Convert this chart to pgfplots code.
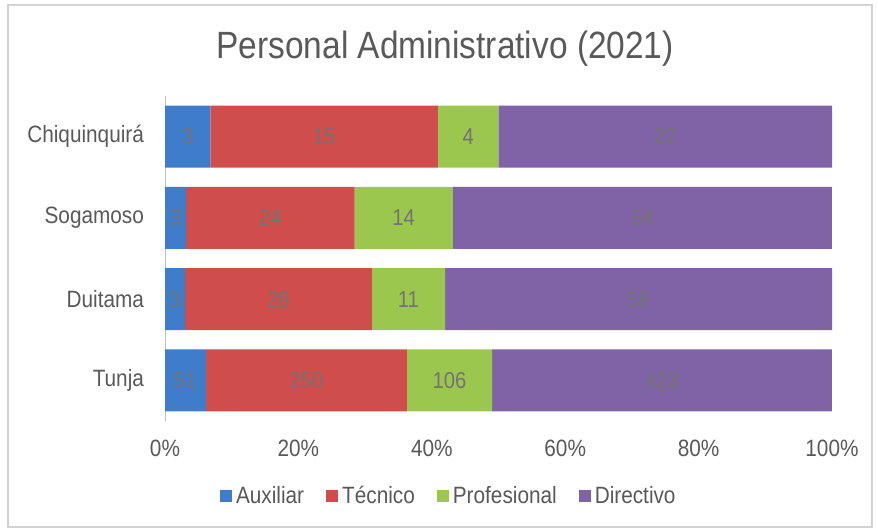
\documentclass[border=0pt]{standalone}
\usepackage{pgfplots}
\usepackage{pgfplotstable}
\pgfplotsset{compat=1.18}
\usepackage{fontspec}
\setmainfont{Liberation Sans}[FakeStretch=0.88]
\definecolor{txt}{HTML}{595959}
\definecolor{cAux}{HTML}{3F7DCB}
\definecolor{cTec}{HTML}{CF4D4B}
\definecolor{cPro}{HTML}{9CC74F}
\definecolor{cDir}{HTML}{8063A6}
\pgfplotstableread{
idx name aux tec pro dir
0 Tunja 51 250 106 423
1 Duitama 3 28 11 58
2 Sogamoso 3 24 14 54
3 Chiquinquira 3 15 4 22
}\data
\newcommand{\tot}{(\thisrow{aux}+\thisrow{tec}+\thisrow{pro}+\thisrow{dir})}
\begin{document}
\begin{tikzpicture}
\path[use as bounding box] (0,0) rectangle (439pt,264.5pt);
\draw[gray!35, line width=1pt] (4pt,1pt) rectangle (436pt,262pt);
\pgfplotsset{
  common/.style={
    at={(82.5pt,54pt)}, anchor=south west,
    width=333.5pt, height=162.5pt, scale only axis,
    xmin=0, xmax=100, ymin=-0.5, ymax=3.5,
  }
}
\begin{axis}[common,
  xbar stacked, bar width=31pt,
  separate axis lines,
  axis x line*=bottom, x axis line style={draw=none},
  axis y line*=left, y axis line style={gray!50},
  major tick length=0pt,
  xtick={0,20,40,60,80,100},
  xticklabels={0\%,20\%,40\%,60\%,80\%,100\%},
  xticklabel style={font=\fontsize{11.8}{13}\selectfont, text=txt, yshift=-6pt},
  ytick={0,1,2,3},
  yticklabels={Tunja,Duitama,Sogamoso,Chiquinquirá},
  yticklabel style={font=\fontsize{11.8}{13}\selectfont, text=txt, xshift=-7pt},
  title={Personal Administrativo (2021)},
  title style={font=\fontsize{19}{22}\selectfont, text=txt, at={(axis description cs:0.42,1.11)}, anchor=center},
  legend style={draw=none, at={(axis description cs:0.427,-0.231)}, anchor=center,
    legend columns=4, font=\fontsize{11.8}{13}\selectfont, text=txt,
    /tikz/every even column/.append style={column sep=9pt}},
  legend image code/.code={\fill[#1] (0pt,-3pt) rectangle (6pt,3pt);},
]
\addplot[fill=cAux, draw=none] table[x expr={\thisrow{aux}/\tot*100}, y=idx] {\data};
\addplot[fill=cTec, draw=none] table[x expr={\thisrow{tec}/\tot*100}, y=idx] {\data};
\addplot[fill=cPro, draw=none] table[x expr={\thisrow{pro}/\tot*100}, y=idx] {\data};
\addplot[fill=cDir, draw=none] table[x expr={\thisrow{dir}/\tot*100}, y=idx] {\data};
\legend{Auxiliar, Técnico, Profesional, Directivo}
\end{axis}
\begin{axis}[common, hide axis,
  nodes near coords, point meta=explicit symbolic,
  every node near coord/.style={anchor=center, font=\fontsize{11.5}{13}\selectfont, text=black!55}]
\addplot[only marks, mark=none] table[x expr={\thisrow{aux}/2/\tot*100}, y=idx, meta=aux] {\data};
\addplot[only marks, mark=none] table[x expr={(\thisrow{aux}+\thisrow{tec}/2)/\tot*100}, y=idx, meta=tec] {\data};
\addplot[only marks, mark=none] table[x expr={(\thisrow{aux}+\thisrow{tec}+\thisrow{pro}/2)/\tot*100}, y=idx, meta=pro] {\data};
\addplot[only marks, mark=none] table[x expr={(\thisrow{aux}+\thisrow{tec}+\thisrow{pro}+\thisrow{dir}/2)/\tot*100}, y=idx, meta=dir] {\data};
\end{axis}
\end{tikzpicture}
\end{document}
